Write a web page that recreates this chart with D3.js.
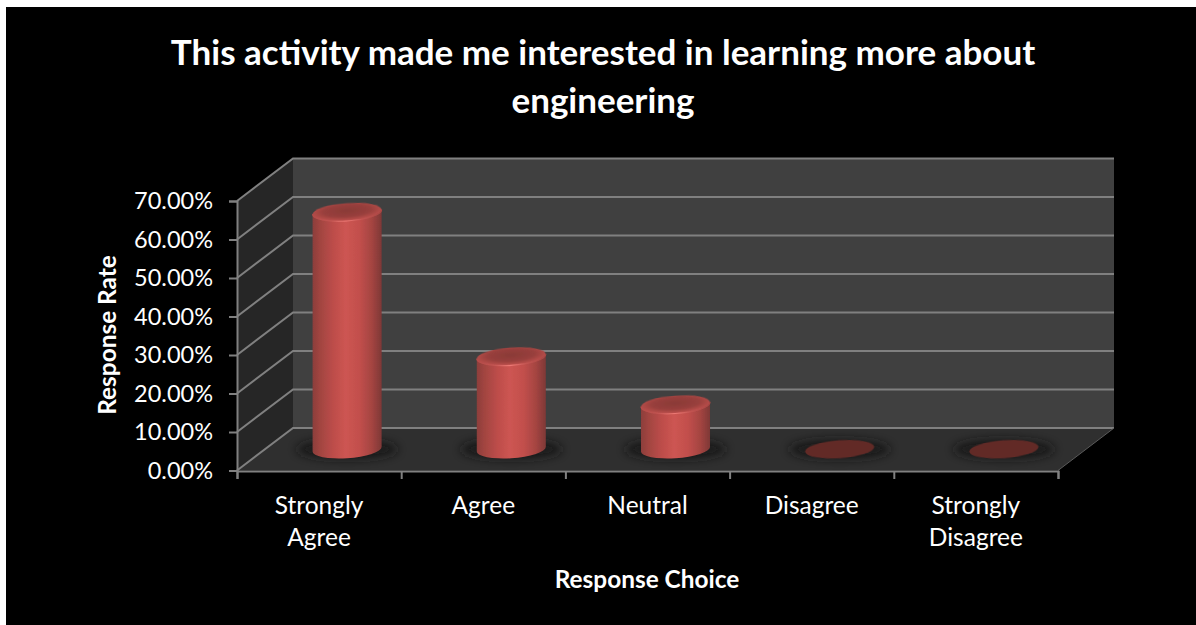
<!DOCTYPE html>
<html>
<head>
<meta charset="utf-8">
<script src="https://cdnjs.cloudflare.com/ajax/libs/d3/7.8.5/d3.min.js"></script>
<style>
html,body{margin:0;padding:0;background:#fff;overflow:hidden}
svg{display:block}
text{font-family:Lato,"Open Sans",sans-serif;fill:#fff}
</style>
</head>
<body>
<svg id="chart" width="1196" height="625"></svg>
<script>
// Survey results
const categories = ["Strongly Agree", "Agree", "Neutral", "Disagree", "Strongly Disagree"];
const categoryLines = [["Strongly", "Agree"], ["Agree"], ["Neutral"], ["Disagree"], ["Strongly", "Disagree"]];
const responseRates = [61.6, 24.1, 11.6, 0, 0];
const yTicks = [0, 10, 20, 30, 40, 50, 60, 70];
const titleLines = ["This activity made me interested in learning more about", "engineering"];
const xTitle = "Response Choice";
const yTitle = "Response Rate";

const svg = d3.select("#chart");
svg.append("rect").attr("x", 6).attr("y", 7).attr("width", 1190).attr("height", 618).attr("fill", "#000");

// Front plane of the 3-D box plus the offset to its back wall
const depth = { dx: 56, dy: -42.5 };
const y = d3.scaleLinear().domain([0, 70]).range([470.5, 201]);
const x = d3.scaleBand().domain(categories).range([237, 1058]);
const edges = d3.scaleLinear().domain([0, categories.length]).range([237, 1058]);
const GRID = "#808080";

const defs = svg.append("defs");
const body = defs.append("linearGradient").attr("id", "body");
[[0, "#8c3e3b"], [0.1, "#a04440"], [0.3, "#bd4d4a"], [0.48, "#cd5552"], [0.68, "#c24f4c"], [0.86, "#a44441"], [1, "#7e3836"]]
  .forEach(([o, c]) => body.append("stop").attr("offset", o).attr("stop-color", c));
const cap = defs.append("radialGradient").attr("id", "cap").attr("cx", "0.5").attr("cy", "0.42").attr("r", "0.56");
[[0, "#8a3a37"], [0.6, "#983f3c"], [0.9, "#b44b48"], [1, "#c05350"]]
  .forEach(([o, c]) => cap.append("stop").attr("offset", o).attr("stop-color", c));
const rim = defs.append("linearGradient").attr("id", "rim");
[[0, "#b44b48"], [0.25, "#c25451"], [0.48, "#ee7a75"], [0.72, "#c25451"], [1, "#a84643"]]
  .forEach(([o, c]) => rim.append("stop").attr("offset", o).attr("stop-color", c));
defs.append("filter").attr("id", "soft").attr("x", "-30%").attr("y", "-100%").attr("width", "160%").attr("height", "300%")
  .append("feGaussianBlur").attr("stdDeviation", 5);
defs.append("filter").attr("id", "smooth").append("feGaussianBlur").attr("stdDeviation", 0.5);

const [x0, x1] = x.range();
const base = y(0), top70 = y(70);

// Walls and floor
svg.append("path").attr("fill", "#404040")
  .attr("d", `M${x0 + depth.dx},${top70 + depth.dy}H${x1 + depth.dx}V${base + depth.dy}H${x0 + depth.dx}Z`);
svg.append("path").attr("fill", "#262626")
  .attr("d", `M${x0},${top70}L${x0 + depth.dx},${top70 + depth.dy}V${base + depth.dy}L${x0},${base}Z`);
svg.append("path").attr("fill", "#2f2f2f")
  .attr("d", `M${x0},${base}L${x0 + depth.dx},${base + depth.dy}H${x1 + depth.dx}L${x1},${base}Z`);

// Gridlines run along the side wall and across the back wall
const grid = svg.append("g").attr("fill", "none").attr("stroke", GRID).attr("stroke-width", 2);
grid.selectAll("path").data(yTicks).join("path")
  .attr("d", d => `M${x0},${y(d)}L${x0 + depth.dx},${y(d) + depth.dy}H${x1 + depth.dx}`);
svg.append("path").attr("fill", "none").attr("stroke", "#5a5a5a").attr("stroke-width", 1)
  .attr("d", `M${x1},${base}L${x1 + depth.dx},${base + depth.dy}`);

// Axes
const yAxis = d3.axisLeft(y).tickValues(yTicks).tickSize(8).tickPadding(16).tickFormat(d => d.toFixed(2) + "%");
const gy = svg.append("g").attr("transform", `translate(${x0},0)`).call(yAxis);
const xAxis = d3.axisBottom(edges).tickValues(d3.range(categories.length + 1)).tickSize(8).tickFormat("");
const gx = svg.append("g").attr("transform", `translate(0,${base + 0.5})`).call(xAxis);
[gy, gx].forEach(g => {
  g.selectAll("path.domain,line").attr("stroke", GRID).attr("stroke-width", 2);
});
gy.selectAll("text").attr("font-size", 23.5).attr("fill", "#fff").attr("font-family", "Lato");

// Cylinders: a tilted ellipse at each end joined by a shaded side
const rx = 34.6, ry = 8.9, tilt = -4, tiltRad = tilt * Math.PI / 180;
const tEdge = Math.atan(-(ry / rx) * Math.tan(tiltRad));
const edgeX = rx * Math.cos(tEdge) * Math.cos(tiltRad) - ry * Math.sin(tEdge) * Math.sin(tiltRad);
const edgeY = rx * Math.cos(tEdge) * Math.sin(tiltRad) + ry * Math.sin(tEdge) * Math.cos(tiltRad);
const bars = svg.append("g").selectAll("g").data(categories.map((c, i) => ({ c, v: responseRates[i] }))).join("g")
  .attr("transform", d => `translate(${x(d.c) + x.bandwidth() / 2 + depth.dx / 2},${depth.dy / 2})`);

// Soft contact shadow on the floor
bars.append("ellipse").attr("cx", 0).attr("cy", base).attr("rx", rx + 16).attr("ry", 10)
  .attr("fill", "#181818").attr("opacity", 0.85).attr("filter", "url(#soft)");

bars.filter(d => d.v > 0).append("path").attr("fill", "url(#body)").attr("filter", "url(#smooth)")
  .attr("d", d => {
    const t = y(d.v), b = base;
    return `M${-edgeX},${t - edgeY}L${-edgeX},${b - edgeY}` +
      `A${rx},${ry} ${tilt} 0 0 ${edgeX},${b + edgeY}L${edgeX},${t + edgeY}Z`;
  });
bars.filter(d => d.v > 0).append("ellipse")
  .attr("cx", 0).attr("cy", d => y(d.v)).attr("rx", rx).attr("ry", ry)
  .attr("transform", d => `rotate(${tilt},0,${y(d.v)})`)
  .attr("fill", "url(#cap)").attr("filter", "url(#smooth)");
bars.filter(d => d.v > 0).append("path").attr("fill", "none").attr("stroke", "url(#rim)").attr("stroke-width", 1.2)
  .attr("filter", "url(#smooth)")
  .attr("d", d => `M${-edgeX},${y(d.v) - edgeY}A${rx},${ry} ${tilt} 0 0 ${edgeX},${y(d.v) + edgeY}`);
bars.filter(d => d.v === 0).append("ellipse")
  .attr("cx", 0).attr("cy", base).attr("rx", rx).attr("ry", ry)
  .attr("transform", `rotate(${tilt},0,${base})`)
  .attr("fill", "#622a27").attr("filter", "url(#smooth)");

// Text
svg.append("g").selectAll("text").data(titleLines).join("text")
  .attr("x", 603).attr("y", (d, i) => 65 + i * 48)
  .attr("text-anchor", "middle").attr("font-size", 35).attr("font-weight", 700).text(d => d);

svg.append("g").selectAll("text").data(categories).join("text")
  .attr("text-anchor", "middle").attr("font-size", 24.5)
  .attr("transform", d => `translate(${x(d) + x.bandwidth() / 2},0)`)
  .selectAll("tspan").data((d, i) => categoryLines[i]).join("tspan")
  .attr("x", 0).attr("y", (d, i) => 514 + i * 32).text(d => d);

svg.append("text").attr("x", 647).attr("y", 588).attr("text-anchor", "middle")
  .attr("font-size", 24.4).attr("font-weight", 700).text(xTitle);
svg.append("text").attr("transform", "translate(116,335) rotate(-90)").attr("text-anchor", "middle")
  .attr("font-size", 24.4).attr("font-weight", 700).text(yTitle);
</script>
</body>
</html>
